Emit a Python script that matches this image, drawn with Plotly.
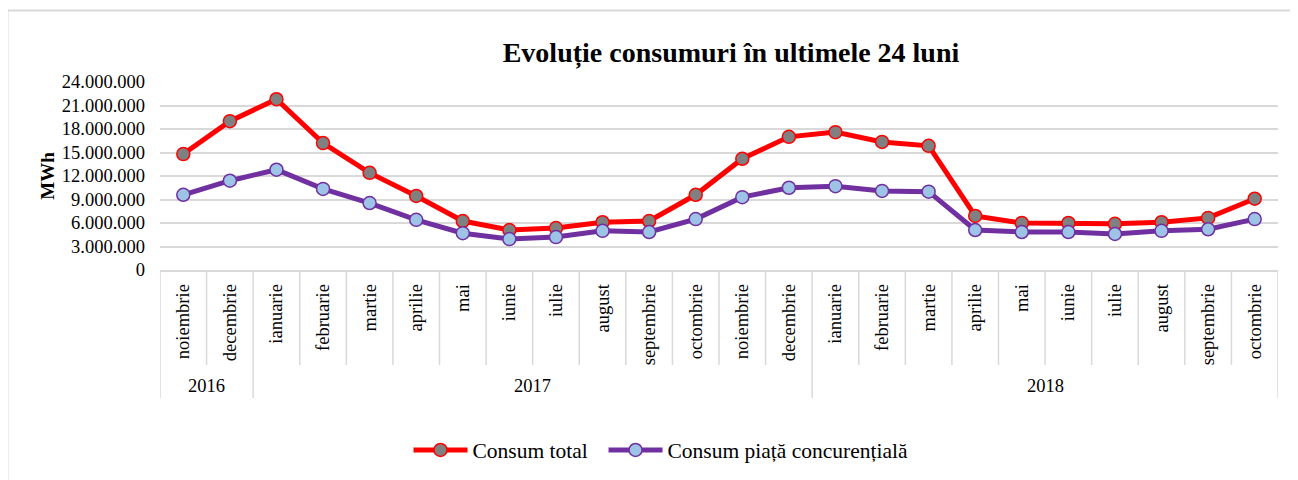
import plotly.graph_objects as go

months = ["noiembrie", "decembrie", "ianuarie", "februarie", "martie", "aprilie", "mai", "iunie",
          "iulie", "august", "septembrie", "octombrie", "noiembrie", "decembrie", "ianuarie",
          "februarie", "martie", "aprilie", "mai", "iunie", "iulie", "august", "septembrie", "octombrie"]
years = ["2016", "2017", "2018"]
year_counts = [2, 12, 10]

consum_total = [14800000, 19000000, 21800000, 16200000, 12400000, 9450000, 6250000, 5100000,
                5350000, 6100000, 6250000, 9600000, 14200000, 17000000, 17600000, 16350000,
                15850000, 6900000, 6000000, 6000000, 5900000, 6100000, 6650000, 9100000]
consum_concurential = [9600000, 11400000, 12800000, 10350000, 8550000, 6400000, 4700000, 3950000,
                       4200000, 5000000, 4850000, 6500000, 9300000, 10500000, 10700000, 10100000,
                       10000000, 5100000, 4850000, 4850000, 4600000, 5000000, 5200000, 6500000]
y_ticks = [0, 3000000, 6000000, 9000000, 12000000, 15000000, 18000000, 21000000, 24000000]
y_tick_text = ["0", "3.000.000", "6.000.000", "9.000.000", "12.000.000", "15.000.000",
               "18.000.000", "21.000.000", "24.000.000"]

FONT = "Liberation Serif, Times New Roman, serif"
x = list(range(len(months)))

fig = go.Figure()
fig.add_trace(go.Scatter(
    x=x, y=consum_total, name="Consum total\u00a0\u00a0", mode="lines+markers",
    line=dict(color="#FF0000", width=5),
    marker=dict(size=13, color="#808080", line=dict(color="#FF0000", width=1.5)),
))
fig.add_trace(go.Scatter(
    x=x, y=consum_concurential, name="Consum piață concurențială", mode="lines+markers",
    line=dict(color="#7030A0", width=5),
    marker=dict(size=13, color="#9DC3E6", line=dict(color="#7030A0", width=1.5)),
))

OFF = 8  # page body margin
W, H = 1298 - OFF, 480 - OFF
L, T = 160 - OFF, 82 - OFF
R = W - (1278 - OFF)
B = H - (270 - OFF)
ph = H - T - B
pw = W - L - R

def py(page_pix):
    return (H - B - (page_pix - OFF)) / ph

def px(page_pix):
    return (page_pix - OFF - L) / pw

shapes = []
bounds = [i - 0.5 for i in range(len(months) + 1)]
year_bounds = [-0.5]
acc = -0.5
for c in year_counts:
    acc += c
    year_bounds.append(acc)
for b in bounds:
    y1 = py(398) if b in year_bounds else py(365)
    shapes.append(dict(type="line", xref="x", yref="paper", x0=b, x1=b, y0=0, y1=y1,
                       line=dict(color="#D9D9D9", width=1.5)))
shapes.append(dict(type="path", xref="paper", yref="paper",
                   path=f"M {px(7.5)} {py(495)} L {px(7.5)} {py(10.5)} L {px(1320)} {py(10.5)}",
                   line=dict(color="#D9D9D9", width=2)))

annotations = []
start = -0.5
for yr, c in zip(years, year_counts):
    annotations.append(dict(x=start + c / 2, y=py(386), xref="x", yref="paper", text=yr,
                            showarrow=False, font=dict(family=FONT, size=18.5, color="#000"),
                            xanchor="center", yanchor="middle"))
    start += c

fig.update_layout(
    width=W, height=H,
    margin=dict(l=L, r=R, t=T, b=B, autoexpand=False),
    paper_bgcolor="white", plot_bgcolor="white",
    title=dict(text="<b>Evoluție consumuri în ultimele 24 luni</b>", xref="paper", x=px(731),
               xanchor="center", y=1 - (52 - OFF) / H, yanchor="middle",
               font=dict(family=FONT, size=28, color="#000")),
    xaxis=dict(range=[-0.5, len(months) - 0.5], tickvals=x, ticktext=months, tickangle=-90,
               showgrid=False, zeroline=False, showline=True, linecolor="#D9D9D9", linewidth=1.5,
               ticks="", ticklabelstandoff=5,
               tickfont=dict(family=FONT, size=18.5, color="#000")),
    yaxis=dict(range=[0, 24000000], tickvals=y_ticks, ticktext=y_tick_text,
               showgrid=True, gridcolor="#D9D9D9", gridwidth=1.5, zeroline=False,
               ticks="", ticklabelstandoff=14,
               tickfont=dict(family=FONT, size=18.5, color="#000"),
               title=dict(text="<b>MWh</b>", font=dict(family=FONT, size=19, color="#000"), standoff=2)),
    legend=dict(orientation="h", x=px(661), xanchor="center", y=py(450), yanchor="middle",
                font=dict(family=FONT, size=21.5, color="#000"), itemwidth=54,
                bgcolor="rgba(0,0,0,0)"),
    shapes=shapes, annotations=annotations,
)

fig.write_html("out.html")
